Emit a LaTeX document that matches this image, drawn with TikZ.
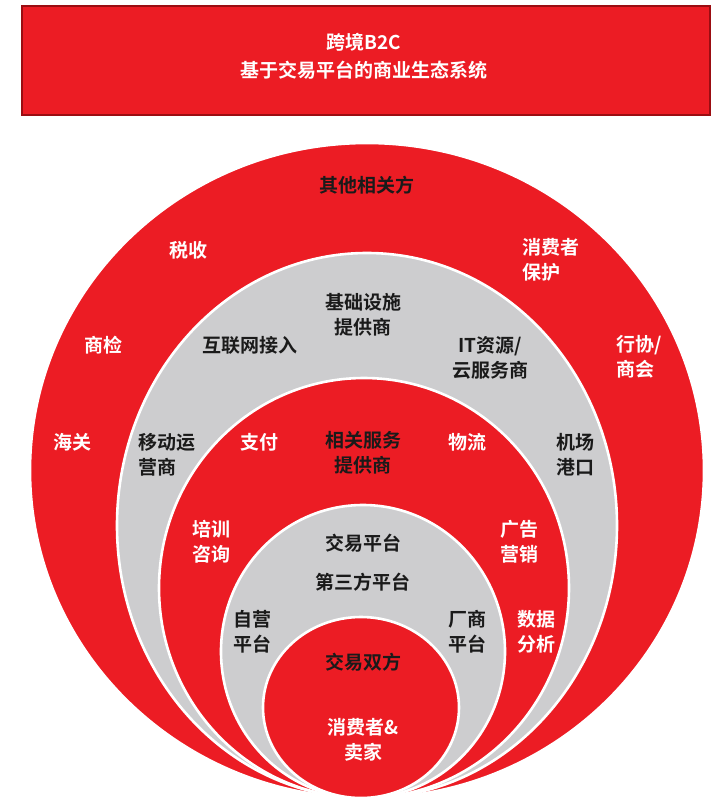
\documentclass[tikz,border=0pt]{standalone}
\usepackage{fontspec}
\setmainfont{Noto Sans CJK SC}[BoldFont={Noto Sans CJK SC Bold}]
\definecolor{ecored}{HTML}{EC1C24}
\definecolor{ecogrey}{HTML}{CDCDCF}
\definecolor{ecodark}{HTML}{1A1A1A}
\definecolor{ecoborder}{HTML}{9B0D12}
\begin{document}
\begin{tikzpicture}[x=1pt,y=-1pt,
  ring/.style={draw=white, line width=2.6pt},
  redring/.style={ring, fill=ecored},
  greyring/.style={ring, fill=ecogrey},
  lbl/.style={font=\fontsize{19}{25}\selectfont\bfseries, inner sep=0pt, align=center},
  wt/.style={lbl, text=white},
  dk/.style={lbl, text=ecodark},
  titlebox/.style={fill=ecored, draw=ecoborder, line width=1.4pt}
]
\useasboundingbox (0,0) rectangle (718,804);
% title
\draw[titlebox] (22,6) rectangle (710,115);
\node[wt] (t1) at (364,42) {跨境B2C};
\node[wt] (t2) at (364,70) {基于交易平台的商业生态系统};
% nested ellipses
\draw[redring]  (367,470.5) ellipse [x radius=337, y radius=327.5];
\draw[greyring] (367,525.5) ellipse [x radius=250, y radius=272.5];
\draw[redring]  (364,588)   ellipse [x radius=205, y radius=210];
\draw[greyring] (363,651.5) ellipse [x radius=142, y radius=146.5];
\draw[redring]  (361,707.5) ellipse [x radius=98,  y radius=90.5];
% outer ring labels
\node[dk] (other) at (367,185) {其他相关方};
\node[wt] (tax) at (188,250) {税收};
\node[wt,align=left] (cons) at (551,260) {消费者\\保护};
\node[wt] (insp) at (103,345) {商检};
\node[wt,align=left] (assoc) at (639,357) {行协/\\商会};
\node[wt] (cust) at (72,442) {海关};
% grey ring labels
\node[dk] (infra) at (363,315) {基础设施\\提供商};
\node[dk] (net) at (250,345) {互联网接入};
\node[dk] (it) at (490,358) {IT资源/\\云服务商};
\node[dk,align=left] (mob) at (167,455) {移动运\\营商};
\node[dk] (port) at (575,455) {机场\\港口};
% third ring labels
\node[wt] (pay) at (259,442) {支付};
\node[dk] (serv) at (363,453) {相关服务\\提供商};
\node[wt] (logi) at (467,442) {物流};
\node[wt] (train) at (211,542) {培训\\咨询};
\node[wt] (adv) at (519,542) {广告\\营销};
\node[wt] (data) at (536,632) {数据\\分析};
% fourth ring labels
\node[dk] (plat) at (363,543) {交易平台};
\node[dk] (third) at (363,582) {第三方平台};
\node[dk] (self) at (252,632) {自营\\平台};
\node[dk] (mfr) at (467,632) {厂商\\平台};
% innermost
\node[dk] (both) at (363,662) {交易双方};
\node[wt] (cs) at (363,740) {消费者\&\\卖家};
\end{tikzpicture}
\end{document}
